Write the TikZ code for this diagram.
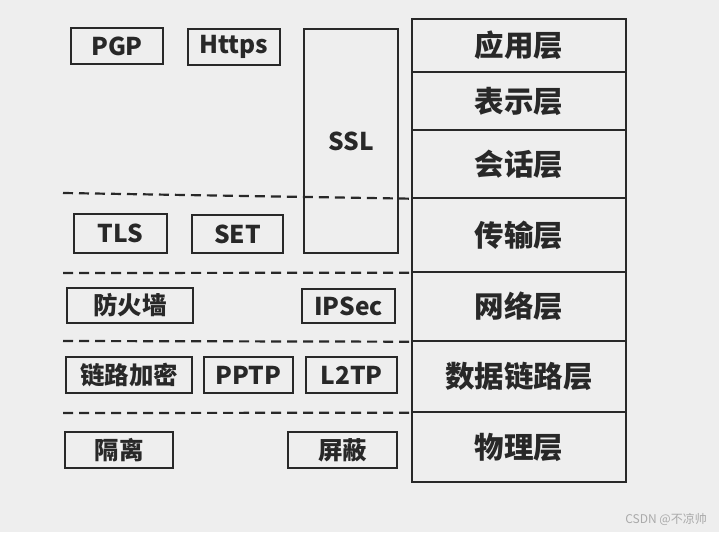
\documentclass[tikz,border=0pt]{standalone}
\usepackage{fontspec}
\newfontfamily\cjk{Noto Sans CJK SC}
\definecolor{bg}{RGB}{238,238,238}
\definecolor{ink}{RGB}{40,40,40}
\definecolor{wm}{RGB}{170,170,170}
\begin{document}
\begin{tikzpicture}[x=1pt,y=-1pt,
  every node/.style={font=\cjk\bfseries, text=ink, inner sep=0pt},
  tool/.style={draw=ink, line width=1.3pt, font=\cjk\bfseries\fontsize{24.5}{24.5}\selectfont},
  layer/.style={draw=ink, line width=1.4pt, minimum width=214pt, font=\cjk\bfseries\fontsize{29.5}{29.5}\selectfont},
  sep/.style={draw=ink, line width=2.2pt, dash pattern=on 10pt off 6pt}]
\fill[bg] (0,0) rectangle (719,532);
\useasboundingbox (0,0) rectangle (719,532);
% layers
\node[layer, minimum height=53pt] (app) at (519,45.5) {应用层};
\node[layer, minimum height=58pt] (pre) at (519,101) {表示层};
\node[layer, minimum height=68pt] (ses) at (519,164) {会话层};
\node[layer, minimum height=74pt] (tra) at (519,235) {传输层};
\node[layer, minimum height=69pt] (net) at (519,306.5) {网络层};
\node[layer, minimum height=71pt] (dl) at (519,376.5) {数据链路层};
\node[layer, minimum height=70pt] (phy) at (519,447) {物理层};
% dashed separators
\coordinate (d1) at (63,193);
\coordinate (d2) at (63,273);
\coordinate (d3) at (63,341);
\coordinate (d4) at (63,413);
\draw[sep] (d1) -- (ses.south west);
\draw[sep] (d2) -- (tra.south west);
\draw[sep] (d3) -- (net.south west);
\draw[sep] (d4) -- (dl.south west);
% tools
\node[tool, minimum width=92pt, minimum height=36pt] (pgp) at (117,46) {PGP};
\node[tool, minimum width=92pt, minimum height=36pt] (https) at (234,47) {Https};
\node[tool, minimum width=94pt, minimum height=224pt] (ssl) at (351,141) {SSL};
\node[tool, minimum width=93pt, minimum height=39pt] (tls) at (120.5,233.5) {TLS};
\node[tool, minimum width=91pt, minimum height=38pt] (set) at (237.5,234) {SET};
\node[tool, minimum width=126pt, minimum height=35pt] (fw) at (130,305.5) {防火墙};
\node[tool, minimum width=93pt, minimum height=34pt] (ipsec) at (348.5,306) {IPSec};
\node[tool, minimum width=126pt, minimum height=36pt] (enc) at (129,375) {链路加密};
\node[tool, minimum width=89pt, minimum height=36pt] (pptp) at (248.5,375) {PPTP};
\node[tool, minimum width=91pt, minimum height=36pt] (l2tp) at (351.5,375) {L2TP};
\node[tool, minimum width=108pt, minimum height=36pt] (iso) at (119,450) {隔离};
\node[tool, minimum width=109pt, minimum height=36pt] (shd) at (342.5,450) {屏蔽};
% watermark
\node[font=\cjk\fontsize{12}{12}\selectfont, text=wm, anchor=east] (wmk) at (707,519) {CSDN @不凉帅};
\end{tikzpicture}
\end{document}
